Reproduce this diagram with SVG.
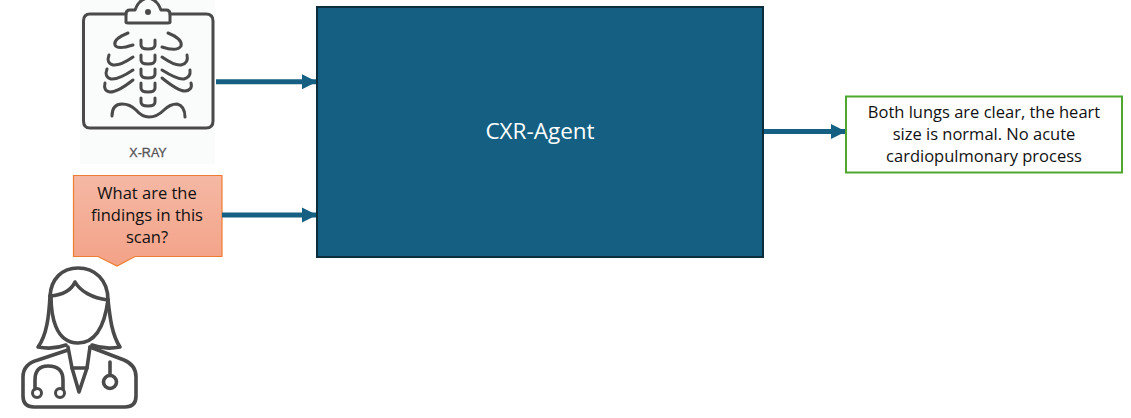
<svg xmlns="http://www.w3.org/2000/svg" width="1131" height="418" viewBox="0 0 1131 418">
<style>
text{font-family:"Open Sans","Noto Sans","Liberation Sans",sans-serif;fill:#111;text-anchor:middle}
.t{font-size:16.5px}
.ic{fill:none;stroke:#4a4a4a;stroke-width:3;stroke-linecap:round;stroke-linejoin:round}
.ic2{fill:none;stroke:#4a4a4a;stroke-width:3.6;stroke-linecap:round;stroke-linejoin:round}
.c{stroke:#156082;stroke-width:5;fill:none;marker-end:url(#a)}
</style>
<defs>
<marker id="a" markerUnits="userSpaceOnUse" markerWidth="16" markerHeight="16" refX="15" refY="8" orient="auto"><path d="M0 0.500L15 8L0 15.500Z" fill="#156082"/></marker>
<linearGradient id="g" x1="0" y1="0" x2="0" y2="1"><stop offset="0" stop-color="#f5b8a4"/><stop offset="1" stop-color="#f3a287"/></linearGradient>
</defs>
<g id="xray">
<rect x="80" y="0" width="135" height="164" fill="#fafbfb"/>
<path class="ic" d="M126 14H90Q83.500 14 83.500 21V121Q83.500 128 90 128H206Q213 128 213 121V21Q213 14 206 14H170"/>
<path class="ic" d="M126 22V14Q126 10 130 10H135Q139 -1 148 -2Q157 -1 161 10H166Q170 10 170 14V22Q170 23 168 23H128Q126 23 126 22Z"/>
<circle cx="148" cy="12" r="3" fill="#4a4a4a"/>
<g class="ic">
<path d="M128 33Q113 39 115 45Q117 50 133 45"/>
<path d="M168 33Q183 39 181 46Q177 52 162 47"/>
<path d="M109 55Q106 63 113 65Q120 66 133 57"/>
<path d="M187 55Q189 63 181 65Q175 66 162 57"/>
<path d="M107 69Q104 77 111 79Q118 80 133 70"/>
<path d="M190 70Q191 77 184 79Q178 80 162 70"/>
<path d="M105 83Q103 91 110 92Q118 92 133 80"/>
<path d="M191 83Q193 90 185 91Q178 91 162 78"/>
<path d="M141 40V45Q141 49 148 49Q155 49 155 45V40"/>
<path d="M141 55V60Q141 64 148 64Q155 64 155 60V55"/>
<path d="M141 69V74Q141 78 148 78Q155 78 155 74V69"/>
<path d="M141 83V88Q141 92 148 92Q155 92 155 88V83"/>
<path d="M141 98V102Q141 106 148 106Q155 106 155 102V98"/>
<path d="M112 116Q112 104 122 104Q130 104 136 110Q142 117 149 117Q157 117 164 110Q170 104 177 104Q185 106 185 117"/>
</g>
<text x="148" y="157" style="font-size:12.500px;font-family:'Liberation Sans',sans-serif;fill:#555;stroke:#555;stroke-width:.3">X-RAY</text>
</g>
<g id="question">
<path d="M73.500 175.500H222V256.500H135L117 266L98 256.500H73.500Z" fill="url(#g)" stroke="#ed7d31" stroke-width="1.200"/>
<text class="t" x="147" y="199">What are the</text>
<text class="t" x="147" y="221">findings in this</text>
<text class="t" x="147" y="243">scan?</text>
</g>
<g id="doctor">
<g class="ic2">
<path d="M50 296C51 279 62 268 78 268C95 268 108 280 108 300"/>
<path d="M50 296C62 295 71 291 75 282C80 291 92 298 108 300"/>
<path d="M51 296C51 315 55 343 78 343C100 343 106 315 108 300"/>
<path d="M50 296C49 315 47 335 38 347C48 349 58 348 66 345"/>
<path d="M108 300C110 318 112 335 120 347C110 349 100 348 92 345"/>
<path d="M68 347L72 368L79 392L87 368L90 347"/>
<path d="M72 368H87"/>
<path d="M68 350L38 360Q23 364 23 377V396Q23 407 34 407H125Q136 407 136 396V377Q136 365 124 360L90 347"/>
<path d="M35 389V380Q35 366 48 366Q63 366 63 380V389"/>
<path d="M110 362V375"/>
</g>
<circle class="ic2" cx="110" cy="382" r="6.500"/>
<circle class="ic" cx="37" cy="393" r="4.500"/>
<circle class="ic" cx="60" cy="393" r="4.500"/>
</g>
<g id="connectors">
<path class="c" d="M216 81.700H317"/>
<path class="c" d="M222 215H317"/>
<path class="c" d="M764 131.500H846"/>
</g>
<g id="agent">
<rect x="317" y="7" width="446" height="250" fill="#156082" stroke="#0c2d3c" stroke-width="2"/>
<text x="540" y="139" style="font-size:22.500px;fill:#fff">CXR-Agent</text>
</g>
<g id="answer">
<rect x="846" y="96.500" width="276" height="76" fill="#fff" stroke="#4ea72e" stroke-width="2"/>
<text class="t" x="984" y="118">Both lungs are clear, the heart</text>
<text class="t" x="984" y="140">size is normal. No acute</text>
<text class="t" x="984" y="162">cardiopulmonary process</text>
</g>
</svg>
